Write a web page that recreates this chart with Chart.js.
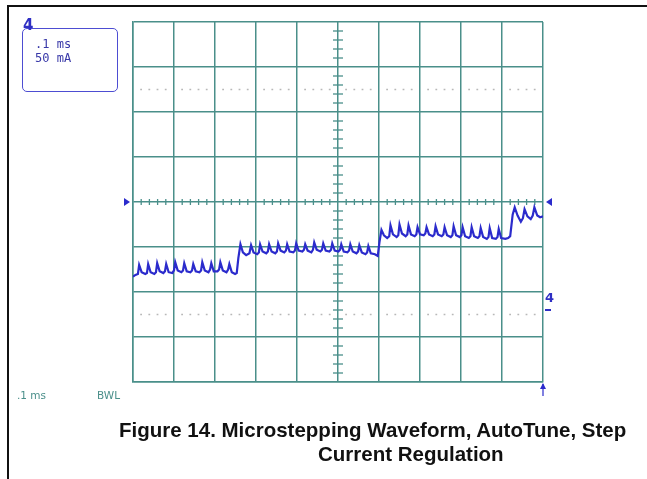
<!DOCTYPE html>
<html>
<head>
<meta charset="utf-8">
<script src="https://cdn.jsdelivr.net/npm/chart.js@4.4.1/dist/chart.umd.min.js"></script>
<style>
  body { margin: 0; background: #fff; }
  #wrap { position: relative; width: 647px; height: 479px; overflow: hidden; font-family: "Liberation Sans", Arial, sans-serif; }
  #scope { position: absolute; left: 0; top: 0; }
  .frameTop { position: absolute; left: 8px; top: 5px; width: 639px; height: 2px; background: #111; }
  .frameLeft { position: absolute; left: 7px; top: 5px; width: 2px; height: 474px; background: #111; }
  .infoBox { position: absolute; left: 22px; top: 28px; width: 94px; height: 62px; border: 1.5px solid #4d4dd2; border-radius: 5px; }
  .chanFlag { position: absolute; left: 23px; top: 16px; font: bold 15px "DejaVu Sans", sans-serif; color: #2f2fc4; }
  .info { position: absolute; left: 35px; font: 12px "DejaVu Sans Mono", monospace; color: #3838a8; }
  .foot { position: absolute; top: 389px; font: 10.5px "DejaVu Sans", sans-serif; color: #4a8f8a; }
  .gnd { position: absolute; left: 545px; top: 290px; font: bold 13px "DejaVu Sans", sans-serif; color: #2f2fc4; }
  .gndDash { position: absolute; left: 545px; top: 309px; width: 6px; height: 2px; background: #2f2fc4; }
  .caption { position: absolute; white-space: nowrap; font-weight: bold; font-size: 20.5px; color: #111; }
</style>
</head>
<body>
<div id="wrap">
  <canvas id="scope" width="647" height="479"></canvas>
  <div class="frameTop"></div>
  <div class="frameLeft"></div>
  <div class="infoBox"></div>
  <div class="chanFlag">4</div>
  <div class="info" style="top:37px">.1 ms</div>
  <div class="info" style="top:51px">50 mA</div>
  <div class="foot" style="left:17px">.1 ms</div>
  <div class="foot" style="left:97px">BWL</div>
  <div class="gnd">4</div>
  <div class="gndDash"></div>
  <div class="caption" style="top:418px; left:119px">Figure 14. Microstepping Waveform, AutoTune, Step</div>
  <div class="caption" style="top:442px; left:318px">Current Regulation</div>
</div>
<script>
// scope settings
const timePerDiv = 0.1;      // ms per division
const currentPerDiv = 50;    // mA per division
const timeRange = [0, 1.0];
const currentRange = [-200, 200];
const dottedRows = [125, -125];

// trace, [time ms, current mA]
const level1 = [
  [0.000,-83],[0.006,-81],[0.012,-80],[0.015,-70],[0.021,-78],[0.030,-80],[0.034,-79],[0.037,-69],
  [0.043,-78],[0.052,-80],[0.056,-78],[0.059,-68],[0.065,-77],[0.074,-79],[0.078,-77],[0.081,-69],
  [0.087,-78],[0.096,-79],[0.100,-76],[0.103,-67],[0.109,-76],[0.118,-78],[0.122,-76],[0.125,-68],
  [0.131,-77],[0.140,-78],[0.144,-76],[0.147,-69],[0.153,-77],[0.162,-78],[0.166,-76],[0.169,-67],
  [0.175,-76],[0.184,-78],[0.188,-75],[0.191,-68],[0.197,-77],[0.206,-77],[0.210,-75],[0.213,-67],
  [0.219,-76],[0.228,-78],[0.232,-75],[0.235,-69],[0.241,-78],[0.249,-80],[0.253,-79]
];
const level2 = [
  [0.257,-62],[0.262,-47],[0.268,-56],[0.276,-59],[0.284,-57],[0.288,-48],[0.294,-56],[0.303,-58],
  [0.307,-56],[0.310,-47],[0.316,-55],[0.325,-57],[0.329,-55],[0.332,-47],[0.338,-55],[0.347,-57],
  [0.351,-55],[0.354,-46],[0.360,-54],[0.369,-56],[0.373,-54],[0.376,-47],[0.382,-55],[0.391,-56],
  [0.395,-54],[0.398,-46],[0.404,-54],[0.413,-55],[0.417,-53],[0.420,-47],[0.426,-54],[0.435,-56],
  [0.439,-53],[0.442,-45],[0.448,-53],[0.457,-55],[0.461,-53],[0.464,-46],[0.470,-54],[0.479,-55],
  [0.483,-53],[0.486,-46],[0.492,-54],[0.501,-55],[0.505,-53],[0.508,-47],[0.514,-55],[0.523,-56],
  [0.527,-54],[0.530,-47],[0.536,-55],[0.545,-57],[0.549,-55],[0.552,-48],[0.558,-56],[0.567,-58],
  [0.571,-56],[0.574,-49],[0.580,-57],[0.590,-58],[0.597,-60]
];
const level3 = [
  [0.601,-45],[0.606,-31],[0.612,-37],[0.620,-40],[0.625,-38],[0.628,-26],[0.634,-36],[0.643,-39],
  [0.647,-37],[0.650,-25],[0.656,-35],[0.665,-38],[0.669,-36],[0.672,-26],[0.678,-36],[0.687,-38],
  [0.691,-36],[0.694,-28],[0.700,-36],[0.709,-37],[0.713,-35],[0.716,-28],[0.722,-36],[0.731,-38],
  [0.735,-36],[0.738,-27],[0.744,-36],[0.753,-38],[0.757,-36],[0.760,-28],[0.766,-37],[0.775,-39],
  [0.779,-37],[0.782,-27],[0.788,-37],[0.797,-39],[0.801,-37],[0.804,-28],[0.810,-38],[0.819,-40],
  [0.823,-38],[0.826,-28],[0.832,-38],[0.841,-40],[0.845,-38],[0.848,-29],[0.854,-39],[0.863,-41],
  [0.867,-39],[0.870,-29],[0.876,-40],[0.885,-41],[0.889,-39],[0.892,-30],[0.898,-40],[0.908,-41],
  [0.915,-40]
];
const level4 = [
  [0.920,-38],[0.926,-14],[0.931,-6],[0.938,-15],[0.946,-22],[0.951,-18],[0.955,-8],[0.962,-16],
  [0.970,-19],[0.975,-15],[0.979,-6],[0.986,-15],[0.993,-17],[1.000,-16]
];

const gridColor = '#4a8f8a';
const traceColor = '#2b2bcc';

const trace = [...level1, ...level2, ...level3, ...level4].map(p => ({ x: p[0], y: p[1] }));

function line(ctx, x1, y1, x2, y2) {
  ctx.beginPath();
  ctx.moveTo(x1, y1);
  ctx.lineTo(x2, y2);
  ctx.stroke();
}

const scopeDecor = {
  id: 'scopeDecor',
  beforeDatasetsDraw(chart) {
    const { ctx, scales: { x, y } } = chart;
    const cx = x.getPixelForValue((timeRange[0] + timeRange[1]) / 2);
    const cy = y.getPixelForValue(0);
    const subT = timePerDiv / 5, subI = currentPerDiv / 5;
    const nT = Math.round((timeRange[1] - timeRange[0]) / subT);
    const nI = Math.round((currentRange[1] - currentRange[0]) / subI);
    ctx.save();
    // dotted reference rows
    ctx.fillStyle = '#b8b8b8';
    dottedRows.forEach(v => {
      const py = y.getPixelForValue(v);
      for (let i = 1; i < nT; i++) {
        if (i % 5 === 0) continue;
        const px = x.getPixelForValue(timeRange[0] + i * subT);
        ctx.fillRect(px - 1, py - 0.75, 1.8, 1.5);
      }
    });
    // minor ticks on the centre cross
    ctx.strokeStyle = gridColor;
    ctx.lineWidth = 1.3;
    for (let i = 1; i < nT; i++) {
      if (i % 5 === 0) continue;
      const px = x.getPixelForValue(timeRange[0] + i * subT);
      line(ctx, px, cy - 3, px, cy + 3);
    }
    for (let i = 1; i < nI; i++) {
      if (i % 5 === 0) continue;
      const py = y.getPixelForValue(currentRange[0] + i * subI);
      line(ctx, cx - 5, py, cx + 5, py);
    }
    ctx.restore();
  },
  afterDatasetsDraw(chart) {
    const { ctx, chartArea: a, scales: { y } } = chart;
    const cy = y.getPixelForValue(0);
    ctx.save();
    ctx.fillStyle = traceColor;
    // level markers
    ctx.beginPath();
    ctx.moveTo(a.left - 9, cy - 4);
    ctx.lineTo(a.left - 3, cy);
    ctx.lineTo(a.left - 9, cy + 4);
    ctx.closePath();
    ctx.fill();
    ctx.beginPath();
    ctx.moveTo(a.right + 9, cy - 4);
    ctx.lineTo(a.right + 3, cy);
    ctx.lineTo(a.right + 9, cy + 4);
    ctx.closePath();
    ctx.fill();
    // trigger position arrow
    ctx.strokeStyle = traceColor;
    ctx.lineWidth = 1.2;
    line(ctx, a.right, a.bottom + 2, a.right, a.bottom + 14);
    ctx.beginPath();
    ctx.moveTo(a.right - 3, a.bottom + 7);
    ctx.lineTo(a.right, a.bottom + 1);
    ctx.lineTo(a.right + 3, a.bottom + 7);
    ctx.closePath();
    ctx.fill();
    ctx.restore();
  }
};

new Chart(document.getElementById('scope'), {
  type: 'line',
  data: {
    datasets: [{
      data: trace,
      borderColor: traceColor,
      borderWidth: 2.2,
      pointRadius: 0,
      tension: 0,
      fill: false
    }]
  },
  options: {
    responsive: false,
    animation: false,
    layout: { padding: { left: 133, top: 22, right: 104, bottom: 97 } },
    plugins: { legend: { display: false }, tooltip: { enabled: false } },
    scales: {
      x: {
        type: 'linear',
        min: timeRange[0],
        max: timeRange[1],
        ticks: { stepSize: timePerDiv, display: false },
        grid: { color: gridColor, lineWidth: 1.5, drawTicks: false },
        border: { color: gridColor, width: 1.5 }
      },
      y: {
        min: currentRange[0],
        max: currentRange[1],
        ticks: { stepSize: currentPerDiv, display: false },
        grid: { color: gridColor, lineWidth: 1.5, drawTicks: false },
        border: { color: gridColor, width: 1.5 }
      }
    }
  },
  plugins: [scopeDecor]
});
</script>
</body>
</html>
